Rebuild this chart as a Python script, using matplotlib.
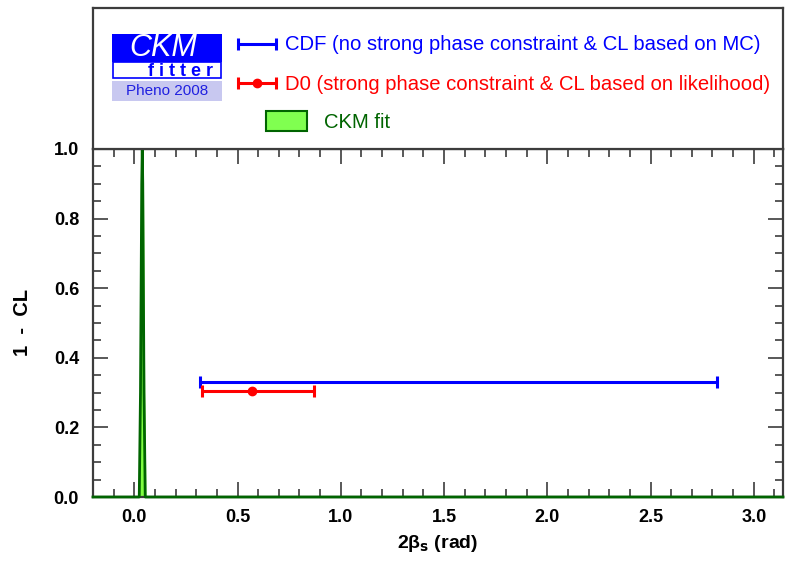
import numpy as np
import matplotlib
matplotlib.use('Agg')
import matplotlib.pyplot as plt
from matplotlib.patches import Rectangle
from matplotlib.ticker import MultipleLocator, FormatStrFormatter

plt.rcParams['font.family'] = ['Liberation Sans', 'DejaVu Sans']
plt.rcParams['mathtext.default'] = 'regular'

# CKM fit: 1-CL profile (narrow peak near 2beta_s ~ 0.04)
ckm_x = [-0.2, 0.024, 0.030, 0.036, 0.0386, 0.041, 0.047, 0.053, np.pi]
ckm_y = [0.0, 0.0, 0.30, 0.90, 1.00, 0.90, 0.30, 0.0, 0.0]

# CDF interval (no central value)
cdf_lo, cdf_hi, cdf_cl = 0.32, 2.82, 0.33
# D0 measurement
d0_x, d0_lo, d0_hi, d0_cl = 0.57, 0.33, 0.87, 0.305

cdf_label = 'CDF (no strong phase constraint & CL based on MC)'
d0_label = 'D0 (strong phase constraint & CL based on likelihood)'
ckm_label = 'CKM fit'

W, H = 793, 564
fig = plt.figure(figsize=(W / 100, H / 100), dpi=100)
frame_col = '#3c3c3c'

def fx(px):
    return px / W

def fy(py):
    return 1 - py / H

# main plot
ax = fig.add_axes([fx(93), fy(497), fx(783) - fx(93), fy(149) - fy(497)])
ax.set_xlim(-0.2, np.pi)
ax.set_ylim(0, 1)

ax.fill_between(ckm_x, ckm_y, color='#80ff40', zorder=2)
ax.plot(ckm_x, ckm_y, color='#006400', lw=2, zorder=3, clip_on=False)

ax.errorbar([(cdf_lo + cdf_hi) / 2], [cdf_cl],
            xerr=[[(cdf_hi - cdf_lo) / 2], [(cdf_hi - cdf_lo) / 2]],
            fmt='none', ecolor='blue', elinewidth=2.2, capsize=4.5,
            capthick=2.2, zorder=4)
ax.errorbar([d0_x], [d0_cl], xerr=[[d0_x - d0_lo], [d0_hi - d0_x]],
            fmt='o', color='red', ms=6, elinewidth=2.2, capsize=4.5,
            capthick=2.2, zorder=4)

ax.xaxis.set_major_locator(MultipleLocator(0.5))
ax.xaxis.set_minor_locator(MultipleLocator(0.1))
ax.yaxis.set_major_locator(MultipleLocator(0.2))
ax.yaxis.set_minor_locator(MultipleLocator(0.05))
ax.tick_params(which='both', direction='in', top=True, right=True,
               color=frame_col, width=1.2)
ax.tick_params(which='major', length=10.5)
ax.tick_params(axis='x', which='major', pad=9)
ax.tick_params(axis='y', which='major', pad=10)
ax.tick_params(which='minor', length=5.5)
ax.xaxis.set_major_formatter(FormatStrFormatter('%.1f'))
ax.yaxis.set_major_formatter(FormatStrFormatter('%.1f'))
for lab in ax.get_xticklabels() + ax.get_yticklabels():
    lab.set_fontweight('bold')
    lab.set_fontsize(13)
for s in ax.spines.values():
    s.set_color(frame_col)
    s.set_linewidth(1.6)

ax.set_xlabel(r'2$\beta_\mathbf{s}$ (rad)', fontsize=14, fontweight='bold',
              labelpad=5)
ax.set_ylabel('1  -  CL', fontsize=14.5, fontweight='bold', labelpad=16)

# legend panel
lg = fig.add_axes([fx(93), fy(149), fx(783) - fx(93), fy(8) - fy(149)])
lg.set_xlim(93, 783)
lg.set_ylim(149, 8)
lg.set_xticks([])
lg.set_yticks([])
for s in lg.spines.values():
    s.set_color(frame_col)
    s.set_linewidth(1.6)

# CKMfitter logo
lg.add_patch(Rectangle((112, 34), 110, 28, color='#0000ff', lw=0))
lg.text(163, 48, 'CKM', color='white', fontsize=22, style='italic',
        ha='center', va='center')
lg.add_patch(Rectangle((113, 62), 108, 16, facecolor='white',
                       edgecolor='#0000ff', lw=1.2))
lg.text(180, 71, 'f i t t e r', color='#0000ff', fontsize=13,
        fontweight='bold', ha='center', va='center')
lg.add_patch(Rectangle((112, 81), 110, 20, color='#c8c8f0', lw=0))
lg.text(167, 91, 'Pheno 2008', color='#2020e0', fontsize=11,
        ha='center', va='center')

# legend entries
lg.errorbar([257], [44], xerr=[[19], [19]], fmt='none', ecolor='blue',
            elinewidth=2.2, capsize=4.5, capthick=2.2)
lg.text(285, 45, cdf_label, color='blue', fontsize=14.6, va='center')
lg.errorbar([257], [83], xerr=[[19], [19]], fmt='o', color='red', ms=6,
            elinewidth=2.2, capsize=4.5, capthick=2.2)
lg.text(285, 84, d0_label, color='red', fontsize=14.6, va='center')
lg.add_patch(Rectangle((266, 111), 41, 20, facecolor='#80ff50',
                       edgecolor='#006400', lw=1.5))
lg.text(324, 122, ckm_label, color='#006400', fontsize=14.6, va='center')

fig.savefig('out.png', dpi=100)
